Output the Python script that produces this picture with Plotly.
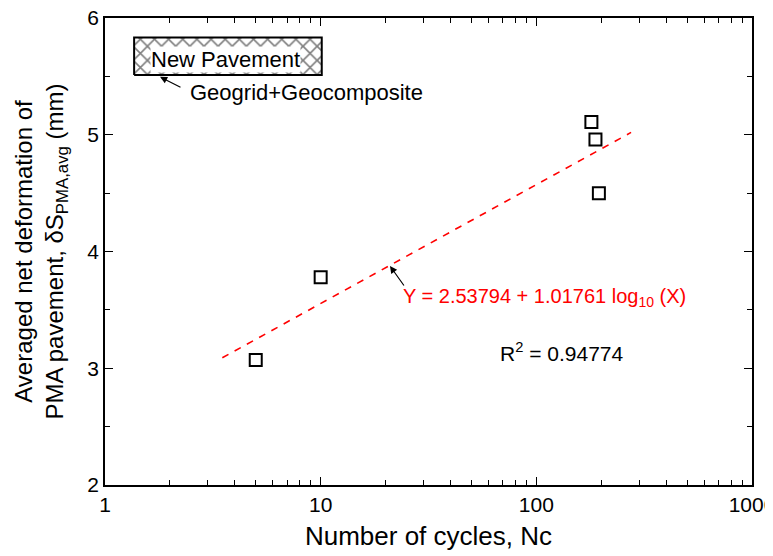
import plotly.graph_objects as go

# data
cycles = [5, 10, 180, 188, 195]
deform = [3.07, 3.78, 5.11, 4.96, 4.50]
fit_x = [3.5, 275]
fit_y = [3.09, 5.02]
x_tickvals = [1, 10, 100, 1000]
x_ticktext = ["1", "10", "100", "1000"]
x_minor = [m * d for d in (1, 10, 100) for m in range(2, 10)]
y_tickvals = [2, 3, 4, 5, 6]

FONT = "Arial, 'Liberation Sans', sans-serif"

fig = go.Figure()

fig.add_trace(go.Scatter(
    x=fit_x, y=fit_y, mode="lines",
    line=dict(color="red", width=1.6, dash="7px,7px"),
    showlegend=False, hoverinfo="skip"))

fig.add_trace(go.Scatter(
    x=cycles, y=deform, mode="markers",
    marker=dict(symbol="square-open", size=12, color="black",
                line=dict(width=2, color="black")),
    showlegend=False))

# hatched "New Pavement" box drawn on an overlay paper-like axis
fig.add_trace(go.Scatter(
    x=[0.045, 0.335, 0.335, 0.045, 0.045],
    y=[0.878, 0.878, 0.958, 0.958, 0.878],
    xaxis="x2", yaxis="y2", mode="lines",
    fill="toself", fillcolor="white",
    fillpattern=dict(shape="x", size=10, solidity=0.3, fgcolor="black", bgcolor="white"),
    line=dict(color="black", width=2),
    showlegend=False, hoverinfo="skip"))

arrow = dict(showarrow=True, arrowhead=2, arrowsize=1.2, arrowwidth=1.2,
             arrowcolor="black", text="", xref="x2", yref="y2", axref="x2", ayref="y2")

fig.update_layout(
    width=765, height=548,
    margin=dict(l=97, r=21, t=10, b=71),
    paper_bgcolor="white", plot_bgcolor="white",
    font=dict(family=FONT, size=21, color="black"),
    xaxis=dict(
        type="log", range=[0, 3], automargin=False, ticklabeloverflow="allow",
        tickvals=x_tickvals, ticktext=x_ticktext,
        ticks="inside", ticklen=8, tickwidth=1.2, tickcolor="black",
        showline=True, linecolor="black", linewidth=1.5, mirror="allticks",
        showgrid=False, zeroline=False,
        minor=dict(tickvals=x_minor, ticks="inside", ticklen=5, tickcolor="black", tickwidth=1, showgrid=False),
        tickfont=dict(size=21),
        title=dict(text="Number of cycles, Nc", font=dict(size=26), standoff=12),
    ),
    yaxis=dict(
        range=[2, 6], tickvals=y_tickvals, automargin=False, ticklabeloverflow="allow",
        ticks="inside", ticklen=8, tickwidth=1.2, tickcolor="black",
        showline=True, linecolor="black", linewidth=1.5, mirror="allticks",
        showgrid=False, zeroline=False,
        minor=dict(dtick=0.5, ticks="inside", ticklen=5, tickcolor="black", tickwidth=1, showgrid=False),
        tickfont=dict(size=21),
        title=dict(text="Averaged net deformation of<br>PMA pavement, δS<sub>PMA,avg</sub> (mm)",
                   font=dict(size=24), standoff=17),
    ),
    xaxis2=dict(range=[0, 1], overlaying="x", visible=False, fixedrange=True),
    yaxis2=dict(range=[0, 1], overlaying="y", visible=False, fixedrange=True),
    annotations=[
        dict(text="New Pavement", xref="x2", yref="y2", x=0.186, y=0.912,
             showarrow=False, font=dict(size=22), bgcolor="white", borderpad=0),
        dict(text="Geogrid+Geocomposite", xref="x2", yref="y2", x=0.128, y=0.8415,
             xanchor="left", yanchor="middle", showarrow=False, font=dict(size=22)),
        dict(text="Y = 2.53794 + 1.01761 log<sub>10</sub> (X)", xref="x2", yref="y2",
             x=0.458, y=0.402, xanchor="left", yanchor="middle", showarrow=False,
             font=dict(size=20, color="red")),
        dict(text="R<sup>2</sup> = 0.94774", xref="x2", yref="y2",
             x=0.608, y=0.284, xanchor="left", yanchor="middle", showarrow=False,
             font=dict(size=21, color="black")),
        dict(arrow, x=0.4405, y=0.469, ax=0.4637, ay=0.424),
        dict(arrow, x=0.085, y=0.874, ax=0.119, ay=0.850),
    ],
)

fig.write_html("out.html")
